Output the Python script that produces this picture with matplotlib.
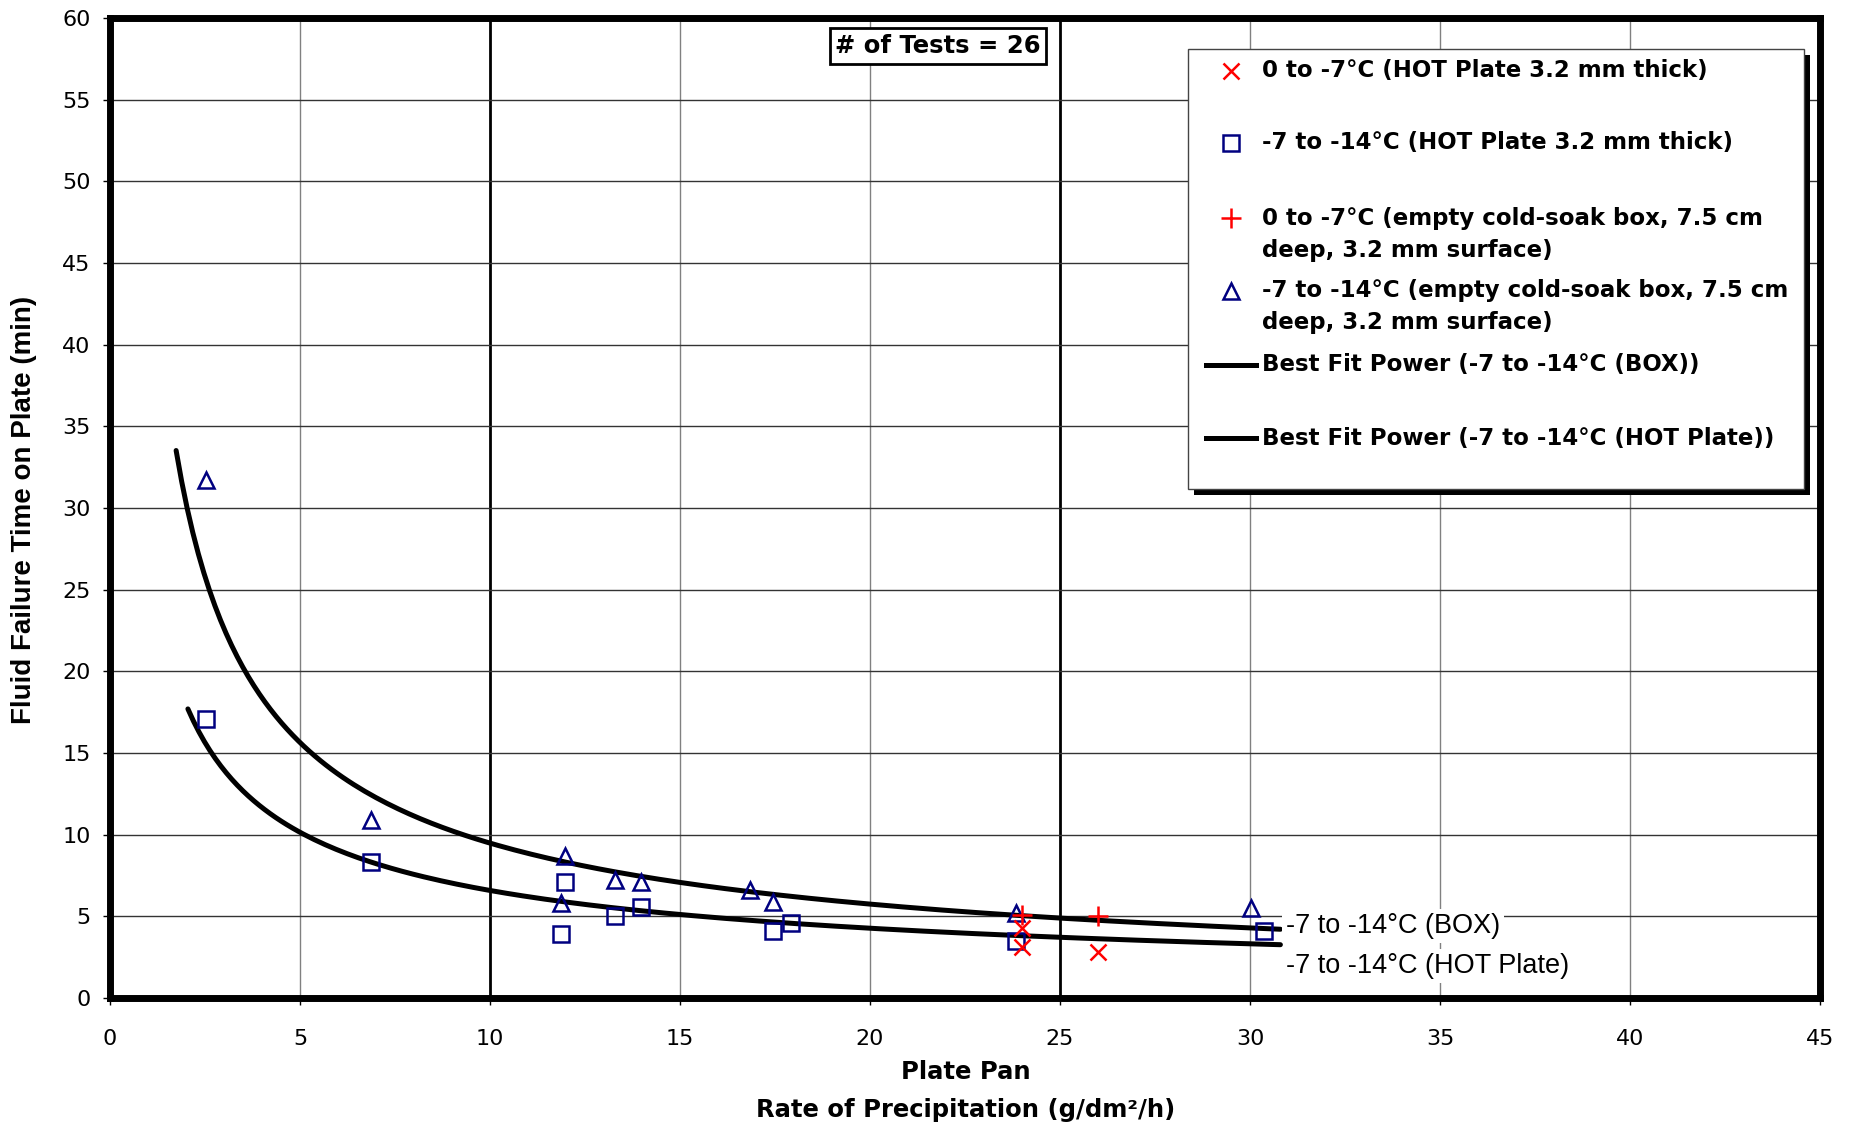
import numpy as np
import matplotlib
matplotlib.use("Agg")
import matplotlib.pyplot as plt
from matplotlib.patches import Rectangle
from matplotlib.lines import Line2D

## -7 to -14 C, empty cold-soak box (triangles)
box_cold_x = [2.52, 6.88, 11.98, 11.86, 13.29, 13.97, 16.84, 17.46, 23.84, 30.03]
box_cold_y = [31.7, 10.9, 8.7, 5.8, 7.2, 7.1, 6.6, 5.9, 5.2, 5.5]

## -7 to -14 C, HOT plate (squares)
hot_cold_x = [2.52, 6.88, 11.98, 11.86, 13.29, 13.97, 17.46, 17.93, 23.84, 30.38]
hot_cold_y = [17.1, 8.3, 7.1, 3.9, 5.0, 5.6, 4.1, 4.6, 3.5, 4.1]

## 0 to -7 C, HOT plate (x) and box (+)
hot_warm_x = [24.0, 24.0, 26.0]
hot_warm_y = [4.3, 3.1, 2.8]
box_warm_x = [24.0, 26.0]
box_warm_y = [5.1, 5.0]

## power trend lines y = a * x^b
box_fit = (50.0, -0.722)
box_fit_range = (1.74, 30.8)
hot_fit = (27.7, -0.624)
hot_fit_range = (2.05, 30.8)

n_tests = 26

W, H = 1858, 1129
fig = plt.figure(figsize=(W / 100, H / 100), dpi=100)
ax = fig.add_axes([110 / W, 1 - 998 / H, (1820 - 110) / W, (998 - 18) / H])
ax.set_xlim(0, 45)
ax.set_ylim(0, 60)
ax.set_xticks(np.arange(0, 46, 5))
ax.set_yticks(np.arange(0, 61, 5))

for s in ax.spines.values():
    s.set_linewidth(5)
    s.set_zorder(6)

for v in np.arange(5, 45, 5):
    if v in (10, 25):
        ax.axvline(v, color="black", lw=2, zorder=0)
    else:
        ax.axvline(v, color="#808080", lw=1, zorder=0)
for h in np.arange(5, 60, 5):
    ax.axhline(h, color="#333333", lw=1, zorder=0)

ax.tick_params(axis="both", direction="out", length=5, width=1, labelsize=16)
ax.tick_params(axis="y", pad=9)
ax.tick_params(axis="x", pad=17)
for lab in ax.get_xticklabels() + ax.get_yticklabels():
    lab.set_fontfamily("DejaVu Sans")

bold = dict(family=["DejaVu Sans"], weight="bold")

def fit_curve(fit, rng):
    xs = np.linspace(rng[0], rng[1], 200)
    return xs, fit[0] * xs ** fit[1]

xs, ys = fit_curve(box_fit, box_fit_range)
ax.plot(xs, ys, color="black", lw=3.6, zorder=3, solid_capstyle="round")
xs, ys = fit_curve(hot_fit, hot_fit_range)
ax.plot(xs, ys, color="black", lw=3.6, zorder=3, solid_capstyle="round")

navy = "#000080"
ax.plot(box_cold_x, box_cold_y, ls="none", marker="^", ms=11, mfc="none",
        mec=navy, mew=1.8, zorder=4)
ax.plot(hot_cold_x, hot_cold_y, ls="none", marker="s", ms=11, mfc="none",
        mec=navy, mew=1.8, zorder=4)
ax.plot(hot_warm_x, hot_warm_y, ls="none", marker="x", ms=12, mec="red",
        mew=1.8, zorder=4)
ax.plot(box_warm_x, box_warm_y, ls="none", marker="+", ms=14, mec="red",
        mew=1.8, zorder=4)

# labels at the end of the trend lines
lab_font = dict(family=["Liberation Sans", "DejaVu Sans"], fontsize=19.5)
ax.text(30.95, box_fit[0] * box_fit_range[1] ** box_fit[1] + 0.2, "-7 to -14°C (BOX)",
        va="center", ha="left", zorder=5,
        bbox=dict(facecolor="white", edgecolor="none", pad=3), **lab_font)
ax.text(30.95, hot_fit[0] * hot_fit_range[1] ** hot_fit[1] - 1.3, "-7 to -14°C (HOT Plate)",
        va="center", ha="left", zorder=5,
        bbox=dict(facecolor="white", edgecolor="none", pad=3), **lab_font)

# test count box
fig.text(938 / W, 1 - 46 / H, "# of Tests = %d" % n_tests, ha="center", va="center",
         fontsize=17.5, zorder=10,
         bbox=dict(facecolor="white", edgecolor="black", lw=2, pad=4), **bold)

# legend with shadow, drawn by hand
lx0, ly0, lx1, ly1 = 1188, 49, 1804, 489
fig.patches.append(Rectangle((lx0 / W + 6 / W, 1 - (ly1 + 6) / H), (lx1 - lx0) / W,
                             (ly1 - ly0) / H, transform=fig.transFigure,
                             facecolor="black", edgecolor="none", zorder=8))
fig.patches.append(Rectangle((lx0 / W, 1 - ly1 / H), (lx1 - lx0) / W, (ly1 - ly0) / H,
                             transform=fig.transFigure, facecolor="white",
                             edgecolor="#444444", lw=1, zorder=9))

entries = [
    ("x", "red", ["0 to -7°C (HOT Plate 3.2 mm thick)"], 71),
    ("s", navy, ["-7 to -14°C (HOT Plate 3.2 mm thick)"], 143),
    ("+", "red", ["0 to -7°C (empty cold-soak box, 7.5 cm", "deep, 3.2 mm surface)"], 218),
    ("^", navy, ["-7 to -14°C (empty cold-soak box, 7.5 cm", "deep, 3.2 mm surface)"], 291),
    ("line", "black", ["Best Fit Power (-7 to -14°C (BOX))"], 365),
    ("line", "black", ["Best Fit Power (-7 to -14°C (HOT Plate))"], 438),
]
for mk, col, lines, py in entries:
    fy = 1 - py / H
    if mk == "line":
        fig.lines.append(Line2D([1206 / W, 1256 / W], [fy, fy], transform=fig.transFigure,
                                color="black", lw=3.6, zorder=10))
    else:
        kw = dict(ms=14 if mk == "+" else 11, mec=col, mew=1.8, mfc="none")
        fig.lines.append(Line2D([1231 / W], [fy], transform=fig.transFigure, ls="none",
                                marker=mk, zorder=10, **kw))
    for i, t in enumerate(lines):
        fig.text(1262 / W, 1 - (py + 32 * i) / H, t, ha="left", va="center",
                 fontsize=16.5, zorder=11, **bold)

# axis titles
fig.text(966 / W, 1 - 1072 / H, "Plate Pan", ha="center", va="center", fontsize=17.5, **bold)
fig.text(966 / W, 1 - 1110 / H, "Rate of Precipitation (g/dm²/h)", ha="center",
         va="center", fontsize=17.5, **bold)
fig.text(24 / W, 1 - 510 / H, "Fluid Failure Time on Plate (min)", rotation=90,
         ha="center", va="center", fontsize=20, weight="bold",
         family=["Liberation Sans Narrow", "Liberation Sans"])

fig.savefig("out.png", dpi=100)
